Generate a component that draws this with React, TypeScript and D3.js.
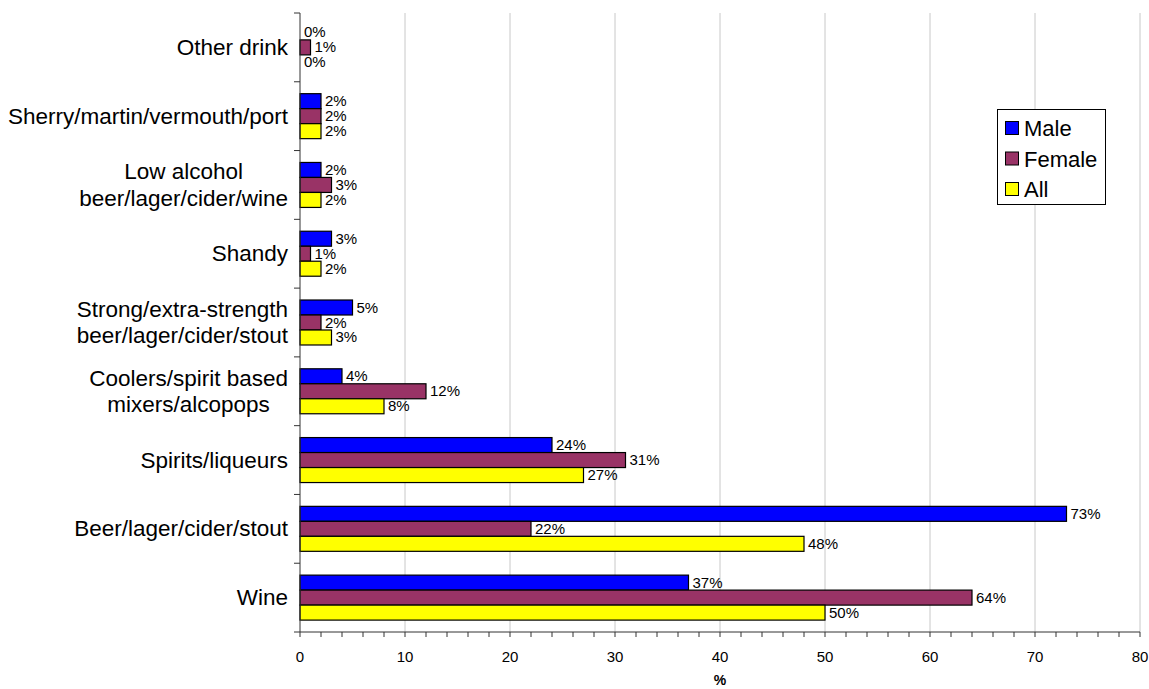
import React from "react";
import * as d3 from "d3";

const categories = [
  ["Other drink"],
  ["Sherry/martin/vermouth/port"],
  ["Low alcohol", "beer/lager/cider/wine"],
  ["Shandy"],
  ["Strong/extra-strength", "beer/lager/cider/stout"],
  ["Coolers/spirit based", "mixers/alcopops"],
  ["Spirits/liqueurs"],
  ["Beer/lager/cider/stout"],
  ["Wine"],
];
const maleValues = [0, 2, 2, 3, 5, 4, 24, 73, 37];
const femaleValues = [1, 2, 3, 1, 2, 12, 31, 22, 64];
const allValues = [0, 2, 2, 2, 3, 8, 27, 48, 50];
const seriesNames = ["Male", "Female", "All"];
const seriesColors = ["#0000FF", "#993366", "#FFFF00"];
const xTicks = [0, 10, 20, 30, 40, 50, 60, 70, 80];

const FONT = "Liberation Sans, Arial, sans-serif";

function measure(text: string, size: number): number {
  const c = document.createElement("canvas");
  const ctx = c.getContext("2d");
  if (!ctx) return text.length * size * 0.5;
  ctx.font = `${size}px "Liberation Sans", Arial, sans-serif`;
  return ctx.measureText(text).width;
}

export default function App() {
  const W = 1149, H = 689;
  const left = 300, right = 1140, top = 13, bottom = 632;
  const x = d3.scaleLinear().domain([0, 80]).range([left, right]);
  const keys = categories.map((c) => c.join(" "));
  const y = d3.scaleBand().domain(keys).range([top, bottom]).paddingInner(0.346).paddingOuter(0.173);
  const inner = d3.scaleBand().domain(seriesNames).range([0, y.bandwidth()]);
  const series = [maleValues, femaleValues, allValues];
  const minor = d3.range(0, 81, 2);
  const step = (bottom - top) / categories.length;
  const catSize = 22.5;
  const labelRight = 288;

  return (
    <svg width={W} height={H} style={{ position: "absolute", left: 0, top: 0, background: "#fff" }} fontFamily={FONT}>
      {xTicks.slice(1).map((t) => (
        <line key={"g" + t} x1={x(t)} x2={x(t)} y1={top} y2={bottom} stroke="#c8c8c8" strokeWidth={1} />
      ))}
      {series.map((vals, si) =>
        vals.map((v, i) => {
          const yy = (y(keys[i]) as number) + (inner(seriesNames[si]) as number);
          const h = inner.bandwidth();
          return (
            <g key={si + "-" + i}>
              {v > 0 && (
                <rect x={x(0)} y={yy} width={x(v) - x(0)} height={h} fill={seriesColors[si]} stroke="#000" strokeWidth={1.2} />
              )}
              <text x={x(v) + 4} y={yy + h / 2 + 5} fontSize={15} fill="#000">{v}%</text>
            </g>
          );
        })
      )}
      {/* y axis */}
      <line x1={left} x2={left} y1={top} y2={bottom} stroke="#333" strokeWidth={1} />
      {d3.range(categories.length + 1).map((i) => (
        <line key={"yt" + i} x1={left - 6} x2={left} y1={top + i * step} y2={top + i * step} stroke="#333" />
      ))}
      {categories.map((lines, i) => {
        const cy = (y(keys[i]) as number) + y.bandwidth() / 2;
        const lh = 26.5;
        const multi = lines.length > 1;
        const maxW = multi ? Math.max(...lines.map((l) => measure(l, catSize))) : 0;
        const cx = labelRight - maxW / 2;
        return (
          <text key={"c" + i} fontSize={catSize} fill="#000" textAnchor={multi ? "middle" : "end"}>
            {lines.map((l, j) => {
              const ty = cy + 7.5 + (j - (lines.length - 1) / 2) * lh;
              return (
                <tspan key={j} x={multi ? cx : labelRight} y={ty}>
                  {l}
                </tspan>
              );
            })}
          </text>
        );
      })}
      {/* x axis */}
      <line x1={left} x2={right} y1={bottom} y2={bottom} stroke="#333" strokeWidth={1} />
      {minor.map((t) => (
        <line key={"xt" + t} x1={x(t)} x2={x(t)} y1={bottom} y2={bottom + 5} stroke="#333" />
      ))}
      {xTicks.map((t) => (
        <text key={"xl" + t} x={x(t)} y={662} fontSize={15} textAnchor="middle" fill="#000">{t}</text>
      ))}
      <text x={x(40)} y={685} fontSize={14} fontWeight="bold" textAnchor="middle">%</text>
      {/* legend */}
      <rect x={997.5} y={109.5} width={108} height={95} fill="#fff" stroke="#000" strokeWidth={1} />
      {seriesNames.map((n, i) => (
        <g key={"lg" + i}>
          <rect x={1005.5} y={121.5 + i * 30.5} width={13} height={13} fill={seriesColors[i]} stroke="#000" />
          <text x={1024} y={136 + i * 30.5} fontSize={22} fill="#000">{n}</text>
        </g>
      ))}
    </svg>
  );
}
